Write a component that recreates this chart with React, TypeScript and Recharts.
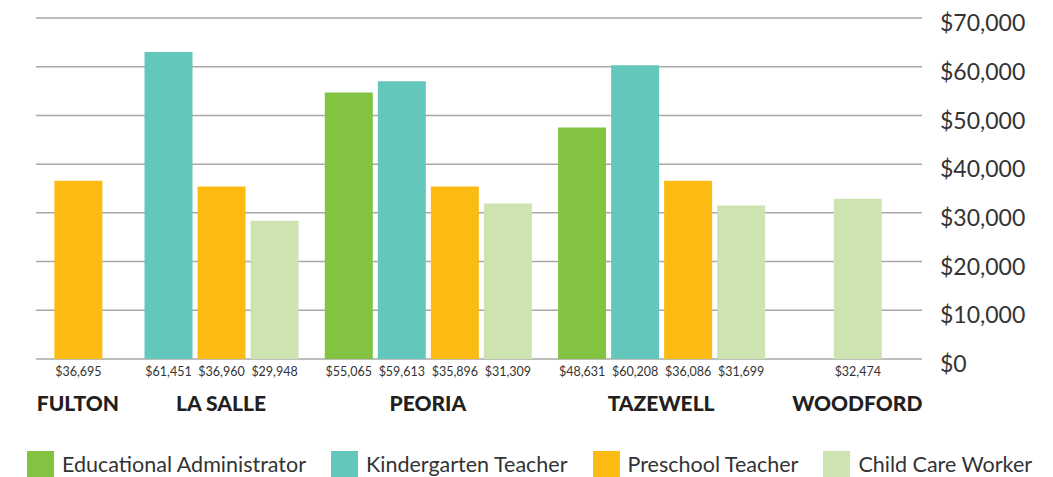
import { Bar, BarChart, CartesianGrid, Cell, LabelList, XAxis, YAxis } from "recharts";

const counties = ["FULTON", "LA SALLE", "PEORIA", "TAZEWELL", "WOODFORD"];
const roles = ["Educational Administrator", "Kindergarten Teacher", "Preschool Teacher", "Child Care Worker"];
const roleColors = ["#82c341", "#64c7bc", "#fcbb13", "#cde4b1"];

// bar heights as drawn in the original, per county (null = no bar)
const eduAdminHeight = [null, null, 54700, 47500, null];
const kinderHeight = [null, 63000, 57000, 60300, null];
const preschoolHeight = [36600, 35400, 35400, 36600, null];
const childCareHeight = [null, 28400, 31900, 31500, 32900];

// wages printed under each bar
const eduAdminWage = [null, null, 55065, 48631, null];
const kinderWage = [null, 61451, 59613, 60208, null];
const preschoolWage = [36695, 36960, 35896, 36086, null];
const childCareWage = [null, 29948, 31309, 31699, 32474];

const yTicks = [0, 10000, 20000, 30000, 40000, 50000, 60000, 70000];

// extra space after each county group, in bar slots
const groupGaps = [0.7, 0.4, 0.4, 1.2];

const heights = [eduAdminHeight, kinderHeight, preschoolHeight, childCareHeight];
const wages = [eduAdminWage, kinderWage, preschoolWage, childCareWage];

type Row = { x: number; value: number; wage: number; role: number };

const rows: Row[] = [];
const groupCenters: number[] = [];
let cursor = 0;
counties.forEach((_, c) => {
  const start = cursor;
  heights.forEach((series, r) => {
    const v = series[c];
    if (v == null) return;
    rows.push({ x: cursor, value: v, wage: wages[r][c] as number, role: r });
    cursor += 1;
  });
  groupCenters.push((start + cursor - 1) / 2);
  cursor += groupGaps[c] ?? 0;
});

const FONT = "Lato, 'Noto Sans', sans-serif";
const money = (v: number) => `$${Number(v).toLocaleString("en-US")}`;

const CountyTick = (props: any) => {
  const { x, y, payload } = props;
  const i = groupCenters.indexOf(payload.value);
  return (
    <text x={x} y={y + 52} textAnchor="middle" fontFamily={FONT} fontWeight={900} fontSize={21} fill="#231f20">
      {counties[i]}
    </text>
  );
};

const WageLabel = (props: any) => {
  const { x, y, width, height, value } = props;
  return (
    <text x={x + width / 2} y={y + height + 17} textAnchor="middle" fontFamily={FONT} fontSize={12.5} fill="#333">
      {money(value)}
    </text>
  );
};

export default function App() {
  return (
    <div style={{ position: "absolute", left: 0, top: 0, width: 1053, height: 477, background: "#fff" }}>
      <BarChart width={1053} height={477} data={rows} margin={{ top: 18, right: 0, left: 36, bottom: 58 }}>
        <CartesianGrid vertical={false} stroke="#a8a8a8" strokeWidth={1.5} />
        <XAxis
          dataKey="x"
          type="number"
          domain={[-0.79, 15.92]}
          allowDataOverflow
          ticks={groupCenters}
          interval={0}
          axisLine={false}
          tickLine={false}
          tickSize={0}
          tickMargin={0}
          height={60}
          tick={<CountyTick />}
        />
        <YAxis
          orientation="right"
          domain={[0, 70000]}
          ticks={yTicks}
          interval={0}
          axisLine={false}
          tickLine={false}
          tickMargin={12}
          width={131}
          tickFormatter={money}
          tick={{ fontFamily: FONT, fontSize: 23, fill: "#333", dy: 5 }}
        />
        <Bar dataKey="value" barSize={48} isAnimationActive={false}>
          {rows.map((row, i) => (
            <Cell key={i} fill={roleColors[row.role]} />
          ))}
          <LabelList dataKey="wage" content={<WageLabel />} />
        </Bar>
      </BarChart>
      <div
        style={{
          position: "absolute",
          left: 27,
          top: 451,
          display: "flex",
          alignItems: "center",
          gap: 25,
          fontFamily: FONT,
          fontSize: 21.5,
          color: "#333",
          whiteSpace: "nowrap",
        }}
      >
        {roles.map((role, i) => (
          <div key={role} style={{ display: "flex", alignItems: "center" }}>
            <span style={{ display: "inline-block", width: 27, height: 26, background: roleColors[i], marginRight: 8 }} />
            <span>{role}</span>
          </div>
        ))}
      </div>
    </div>
  );
}
